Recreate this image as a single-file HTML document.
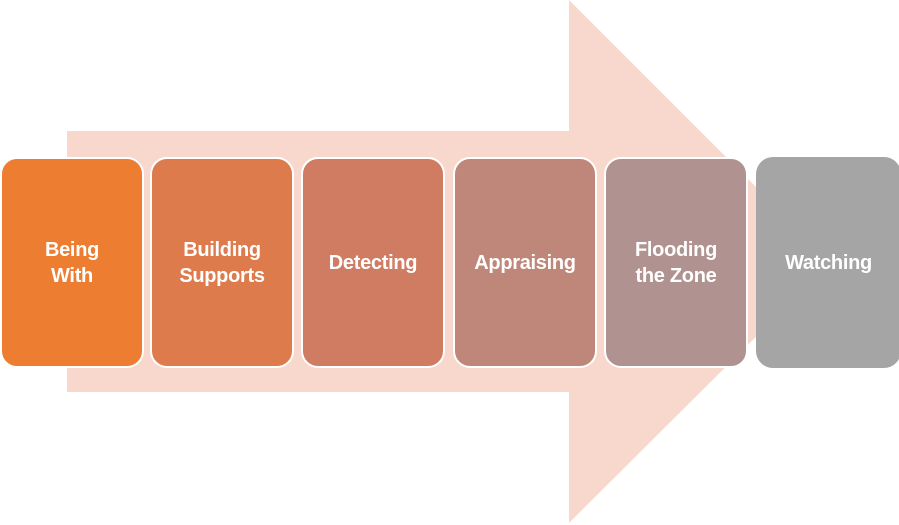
<!DOCTYPE html>
<html><head><style>
body{margin:0;width:899px;height:525px;background:#fff;position:relative;overflow:hidden;font-family:"Liberation Sans",sans-serif}
svg{position:absolute;left:0;top:0}
.b{position:absolute;top:157px;width:140px;height:207px;border:2px solid #fff;border-radius:17px;box-sizing:content-box;display:flex;align-items:center;justify-content:center;text-align:center;color:#fff;font-weight:bold;font-size:20px;line-height:26px;letter-spacing:-0.3px}
</style></head><body>
<svg width="899" height="525"><polygon points="67,131 569,131 569,0 831,262 569,523 569,392 67,392" fill="#F8D8CD"/></svg>
<div class="b" style="left:0;background:#ED7D31">Being<br>With</div>
<div class="b" style="left:150px;background:#DE7B4D">Building<br>Supports</div>
<div class="b" style="left:301px;background:#CF7C63">Detecting</div>
<div class="b" style="left:453px;background:#BF877A">Appraising</div>
<div class="b" style="left:604px;background:#B09390">Flooding<br>the Zone</div>
<div class="b" style="left:756px;width:141px;background:#A5A5A5;border-color:transparent">Watching</div>
</body></html>
